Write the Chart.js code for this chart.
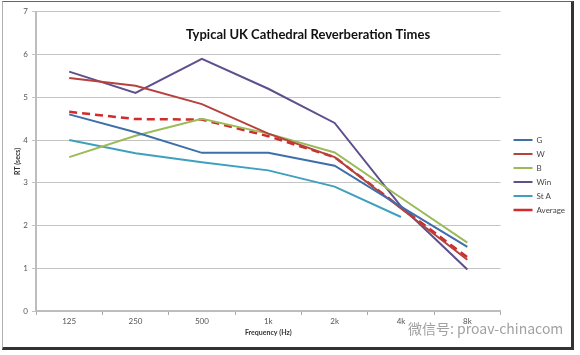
<!DOCTYPE html>
<html>
<head>
<meta charset="utf-8">
<script src="https://cdn.jsdelivr.net/npm/chart.js@4"></script>
<style>
  html, body { margin: 0; padding: 0; background: #fff; width: 580px; height: 355px; overflow: hidden; }
  #frame { position: absolute; left: 2px; top: 1px; width: 568px; height: 345px;
           border-left: 1px solid #b0b0b0; border-top: 1px solid #666; border-right: 3px solid #333; border-bottom: 3px solid #333; }
  #wrap { position: absolute; left: 1px; top: 1px; width: 568px; height: 344px; }
</style>
</head>
<body>
<div id="frame"><div id="wrap"><canvas id="c"></canvas></div></div>
<script>
const chartTitle = 'Typical UK Cathedral Reverberation Times';
const xTitle = 'Frequency (Hz)';
const yTitle = 'RT (secs)';
const watermark = '微信号: proav-chinacom';

const frequencies = ['125', '250', '500', '1k', '2k', '4k', '8k'];
const seriesNames = ['G', 'W', 'B', 'Win', 'St A', 'Average'];
const G    = [4.6, 4.18, 3.7, 3.7, 3.4, 2.44, 1.5];
const W    = [5.45, 5.27, 4.84, 4.15, 3.6, 2.4, 1.2];
const B    = [3.6, 4.1, 4.5, 4.15, 3.71, 2.65, 1.6];
const Win  = [5.6, 5.1, 5.9, 5.2, 4.4, 2.45, 0.97];
const StA  = [4.0, 3.69, 3.48, 3.29, 2.91, 2.2, null];
const Avg  = [4.66, 4.49, 4.48, 4.09, 3.6, 2.42, 1.26];
const yMin = 0, yMax = 7, yStep = 1;

const colors = ['#3E6FA8', '#B7413D', '#9BBB59', '#5F4F8E', '#3FA0BD', '#D12B2B'];
const seriesData = [G, W, B, Win, StA, Avg];

const datasets = seriesData.map((d, i) => ({
  label: seriesNames[i],
  data: d,
  borderColor: colors[i],
  backgroundColor: colors[i],
  borderWidth: i === 5 ? 2.5 : 2,
  borderDash: i === 5 ? [8, 5] : [],
  pointRadius: 0,
  tension: 0,
  fill: false,
  spanGaps: false
}));

const overlay = {
  id: 'overlay',
  afterLayout(chart) {
    const lg = chart.legend;
    if (lg) {
      const w = lg.right - lg.left;
      lg.left = chart.chartArea.right + 7;
      lg.right = lg.left + w;
      lg.top -= 4; lg.bottom -= 4;
    }
  },
  afterDraw(chart) {
    const ctx = chart.ctx;
    ctx.save();
    ctx.font = 'bold 13px Lato';
    ctx.fillStyle = '#111';
    ctx.textAlign = 'center';
    ctx.textBaseline = 'middle';
    ctx.fillText(chartTitle, 304, 32);
    ctx.font = '14px "Noto Sans CJK SC"';
    ctx.fillStyle = 'rgba(120,120,120,0.7)';
    ctx.textAlign = 'left';
    ctx.fillText(watermark, 404, 326);
    ctx.restore();
  }
};

new Chart(document.getElementById('c'), {
  type: 'line',
  data: { labels: frequencies, datasets },
  plugins: [overlay],
  options: {
    responsive: true,
    maintainAspectRatio: false,
    animation: false,
    layout: { padding: { top: 8, right: 4, left: 0, bottom: 0 } },
    plugins: {
      title: { display: false },
      tooltip: { enabled: false },
      legend: {
        position: 'right',
        labels: {
          usePointStyle: true,
          pointStyle: 'line',
          pointStyleWidth: 19,
          boxWidth: 19,
          padding: 6,
          color: '#444',
          font: { family: 'Lato', size: 8 }
        }
      }
    },
    scales: {
      x: {
        offset: true,
        grid: { display: true, drawOnChartArea: false, offset: true, tickLength: 4, color: '#a8a8a8' },
        border: { color: '#bdbdbd', width: 2 },
        ticks: { color: '#555', font: { family: 'Lato', size: 8 }, padding: 2, maxRotation: 0 },
        title: { display: true, text: xTitle, color: '#333', font: { family: 'Lato', size: 7, weight: 'bold' }, padding: { top: 0, bottom: 10 } },
        afterFit(scale) { scale.height = 36; }
      },
      y: {
        min: yMin, max: yMax,
        grid: { color: '#c4c4c4', tickLength: 4 },
        border: { color: '#bdbdbd', width: 2 },
        ticks: { stepSize: yStep, color: '#555', font: { family: 'Lato', size: 8 }, padding: 4 },
        title: { display: true, text: yTitle, color: '#333', font: { family: 'Lato', size: 7, weight: 'bold' }, padding: { top: 10, bottom: 0 } },
        afterFit(scale) { scale.width = 32; }
      }
    }
  }
});
</script>
</body>
</html>
